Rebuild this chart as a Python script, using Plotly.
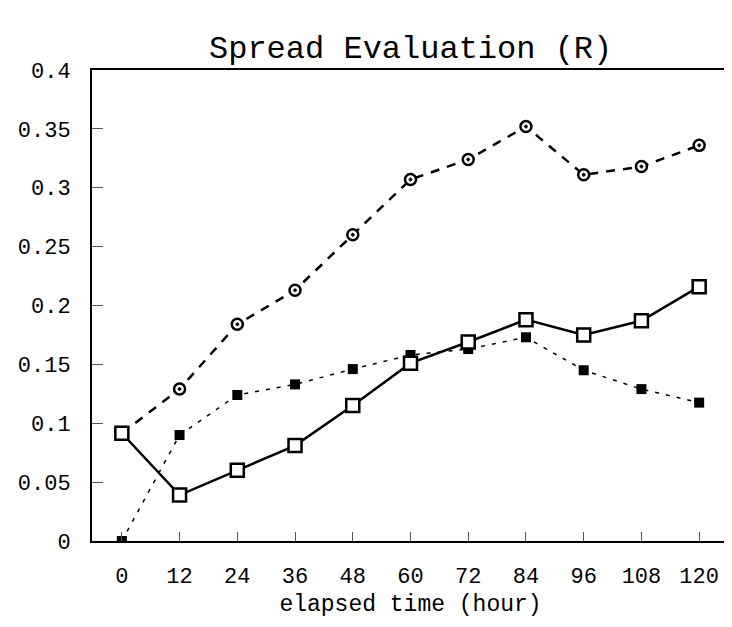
import plotly.graph_objects as go

hours = [0, 12, 24, 36, 48, 60, 72, 84, 96, 108, 120]
series_circle = [0.0915, 0.129, 0.184, 0.213, 0.260, 0.307, 0.324, 0.352, 0.311, 0.318, 0.336]
series_open_square = [0.0915, 0.039, 0.060, 0.081, 0.115, 0.151, 0.169, 0.188, 0.175, 0.187, 0.216]
series_filled_square = [0.0, 0.090, 0.124, 0.133, 0.146, 0.158, 0.163, 0.173, 0.145, 0.129, 0.1175]
y_ticks = [0, 0.05, 0.1, 0.15, 0.2, 0.25, 0.3, 0.35, 0.4]
y_tick_text = ["0", "0.05", "0.1", "0.15", "0.2", "0.25", "0.3", "0.35", "0.4"]
x_tick_text = [str(h) for h in hours]

FONT = "Liberation Mono"

# page body has an 8px margin; size the figure so the plot lands where the reference has it
W, H = 724, 619
ML, MR, MT, MB = 84, 3, 62, 86

fig = go.Figure()
fig.add_trace(go.Scatter(
    x=hours, y=series_circle, mode="lines+markers",
    line=dict(color="black", width=2.5, dash="9px,8px"),
    marker=dict(symbol="circle-dot", size=11, color="white",
                line=dict(color="black", width=2.5)),
    showlegend=False))
fig.add_trace(go.Scatter(
    x=hours, y=series_filled_square, mode="lines+markers",
    line=dict(color="black", width=1.5, dash="4px,7px"),
    marker=dict(symbol="square", size=10, color="black",
                line=dict(color="black", width=0)),
    showlegend=False))
fig.add_trace(go.Scatter(
    x=hours, y=series_open_square, mode="lines+markers",
    line=dict(color="black", width=2.5),
    marker=dict(symbol="square", size=13, color="white",
                line=dict(color="black", width=2.5)),
    showlegend=False))

plot_w = W - ML - MR
plot_h = H - MT - MB
fig.update_layout(
    width=W, height=H,
    margin=dict(l=ML, r=MR, t=MT, b=MB, autoexpand=False),
    paper_bgcolor="white", plot_bgcolor="white",
    font=dict(family=FONT, color="black", size=22),
    annotations=[
        dict(text="Spread Evaluation (R)",
             x=(410 - 92) / plot_w, xref="paper",
             y=1 + (70 - 49) / plot_h, yref="paper",
             xanchor="center", yanchor="middle", showarrow=False,
             font=dict(family=FONT, size=32, color="black")),
    ],
)

fig.update_xaxes(
    range=[-6.2, 126.2], tickvals=hours, ticktext=x_tick_text,
    showgrid=False, zeroline=False, showline=True, linecolor="black",
    linewidth=2, mirror=True, ticks="inside", ticklen=9, tickwidth=1,
    tickcolor="#555", tickfont=dict(family=FONT, size=22),
    ticklabelstandoff=14,
    title=dict(text="elapsed time (hour)", font=dict(family=FONT, size=23), standoff=5),
)
fig.update_yaxes(
    range=[0, 0.4], tickvals=y_ticks, ticktext=y_tick_text,
    showgrid=False, zeroline=False, showline=True, linecolor="black",
    linewidth=2, mirror=True, ticks="inside", ticklen=11, tickwidth=1,
    tickcolor="#555", tickfont=dict(family=FONT, size=22),
    ticklabelstandoff=15,
)

fig.write_html("out.html")
